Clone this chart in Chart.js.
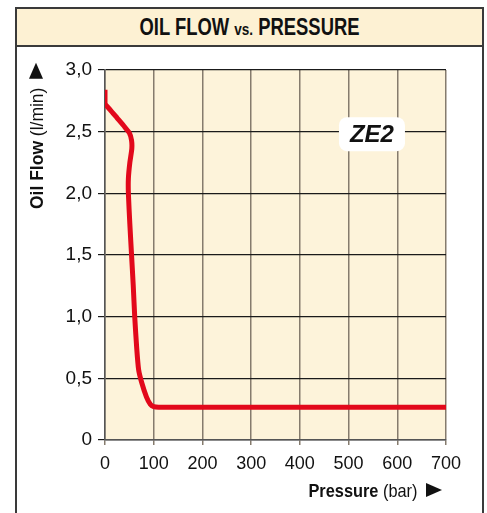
<!DOCTYPE html>
<html>
<head>
<meta charset="utf-8">
<script src="https://cdn.jsdelivr.net/npm/chart.js@4"></script>
<style>
  body { margin: 0; background: #fff; }
  #frame {
    position: absolute; left: 15px; top: 7px; width: 469px; height: 520px;
    border: 2px solid #3a3a3a; border-bottom: none; box-sizing: border-box;
  }
  #title {
    height: 36px; background: #fdf1d3; border-bottom: 2px solid #3a3a3a;
    text-align: center; line-height: 36px; color: #111;
  }
  #title span {
    display: inline-block; transform: scaleX(0.8);
    font-family: 'Liberation Sans', Arial, sans-serif; font-weight: bold; font-size: 23px;
  }
  #title small { font-size: 17px; }
  #wrap { position: absolute; left: 0; top: 0; width: 487px; height: 513px; }
</style>
</head>
<body>
<div id="frame"><div id="title"><span>OIL FLOW <small>vs.</small> PRESSURE</span></div></div>
<div id="wrap"><canvas id="flowChart" width="487" height="513"></canvas></div>
<script>
document.addEventListener('DOMContentLoaded', function () {
    // curve (pressure in bar, flow in l/min)
    const pressure = [0, 0, 10, 25, 40, 50, 54.5, 55, 51, 48, 48, 51, 54.5, 58, 61, 65, 69, 75, 85, 93, 100, 110, 300, 700];
    const flow = [2.84, 2.73, 2.68, 2.61, 2.54, 2.49, 2.43, 2.36, 2.25, 2.12, 2.0, 1.75, 1.5, 1.25, 1.0, 0.75, 0.57, 0.47, 0.35, 0.29, 0.27, 0.265, 0.265, 0.265];

    const xTicks = [0, 100, 200, 300, 400, 500, 600, 700];
    const yTicks = [0, 0.5, 1.0, 1.5, 2.0, 2.5, 3.0];
    const modelLabel = 'ZE2';
    const labelPos = { x: 548, y: 2.48 };

    const points = pressure.map((p, i) => ({ x: p, y: flow[i] }));

    const boldFont = 'bold 19px "Liberation Sans", Arial, sans-serif';
    const plainFont = '19px "Liberation Sans", Arial, sans-serif';

    // draws "bold part" + "plain part" + a filled triangle, squeezed horizontally
    function axisTitle(ctx, boldText, plainText, squeeze) {
        ctx.font = boldFont; const w1 = ctx.measureText(boldText + ' ').width;
        ctx.font = plainFont; const w2 = ctx.measureText(plainText + ' ').width;
        ctx.save();
        ctx.scale(squeeze, 1);
        ctx.font = boldFont; ctx.fillText(boldText + ' ', 0, 0);
        ctx.font = plainFont; ctx.fillText(plainText + ' ', w1, 0);
        ctx.restore();
        const t = (w1 + w2) * squeeze + 4;
        ctx.beginPath();
        ctx.moveTo(t, -14); ctx.lineTo(t + 16, -7); ctx.lineTo(t, 0); ctx.closePath();
        ctx.fill();
        return t + 16;
    }

    const decorations = {
        id: 'decorations',
        beforeDraw(chart) {
            const { ctx, chartArea: a } = chart;
            ctx.save();
            ctx.fillStyle = '#fdf3da';
            ctx.fillRect(a.left, a.top, a.right - a.left, a.bottom - a.top);
            ctx.restore();
        },
        afterDraw(chart) {
            const { ctx, scales, chartArea } = chart;
            ctx.save();
            // model badge
            const cx = scales.x.getPixelForValue(labelPos.x);
            const cy = scales.y.getPixelForValue(labelPos.y);
            ctx.fillStyle = '#fff';
            ctx.beginPath();
            ctx.roundRect(cx - 33, cy - 17, 66, 34, 8);
            ctx.fill();
            ctx.fillStyle = '#111';
            ctx.font = 'italic bold 24px "Liberation Sans", Arial, sans-serif';
            ctx.textAlign = 'center';
            ctx.textBaseline = 'middle';
            ctx.fillText(modelLabel, cx, cy + 1);
            ctx.textAlign = 'left';
            ctx.textBaseline = 'alphabetic';

            // x axis title, right aligned to the plot
            ctx.save();
            ctx.font = boldFont; const w1 = ctx.measureText('Pressure ').width;
            ctx.font = plainFont; const w2 = ctx.measureText('(bar) ').width;
            const total = (w1 + w2) * 0.86 + 20;
            ctx.translate(chartArea.right - 4 - total, 497);
            axisTitle(ctx, 'Pressure', '(bar)', 0.86);
            ctx.restore();

            // y axis title (rotated)
            ctx.save();
            ctx.translate(43, 209);
            ctx.rotate(-Math.PI / 2);
            axisTitle(ctx, 'Oil Flow', '(l/min)', 0.92);
            ctx.restore();
            ctx.restore();
        }
    };

    const config = {
        type: 'scatter',
        data: {
            datasets: [{
                data: points,
                showLine: true,
                borderColor: '#e2081b',
                borderWidth: 5,
                pointRadius: 0,
                tension: 0.2,
                borderCapStyle: 'butt',
                borderJoinStyle: 'round'
            }]
        },
        options: {
            responsive: false,
            animation: false,
            layout: { padding: { left: 0, top: 70, right: 41, bottom: 0 } },
            plugins: { legend: { display: false }, tooltip: { enabled: false } },
            scales: {
                x: {
                    type: 'linear', min: 0, max: 700,
                    afterFit: s => { s.height = 73; },
                    afterBuildTicks: s => { s.ticks = xTicks.map(v => ({ value: v })); },
                    grid: { color: '#857b6d', lineWidth: 1.5, tickLength: 5 },
                    border: { color: '#555', width: 1.5 },
                    ticks: {
                        color: '#111', padding: 8,
                        font: { family: '"Liberation Sans", Arial, sans-serif', size: 18 }
                    }
                },
                y: {
                    min: 0, max: 3,
                    afterFit: s => { s.width = 105; },
                    afterBuildTicks: s => { s.ticks = yTicks.map(v => ({ value: v })); },
                    grid: { color: '#1a1a1a', lineWidth: 1.2, tickLength: 7 },
                    border: { color: '#555', width: 1.5 },
                    ticks: {
                        color: '#111', padding: 6,
                        font: { family: '"Liberation Sans", Arial, sans-serif', size: 19 },
                        callback: v => v === 0 ? '0' : v.toFixed(1).replace('.', ',')
                    }
                }
            }
        },
        plugins: [decorations]
    };

    new Chart(document.getElementById('flowChart'), config);
});
</script>
</body>
</html>
